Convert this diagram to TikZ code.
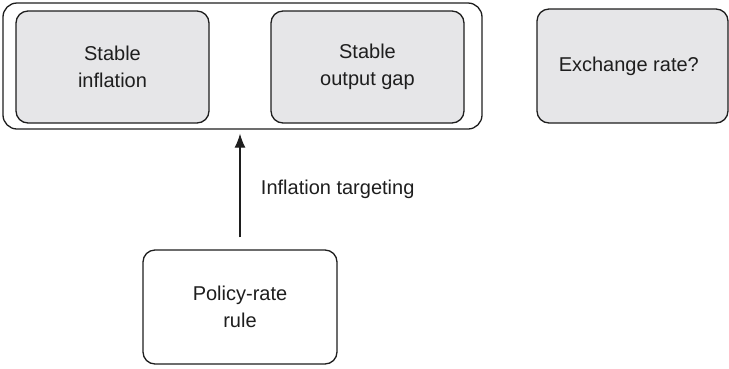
\documentclass[tikz,border=0pt]{standalone}
\usepackage{fontspec}
\setmainfont{Liberation Sans}
\usetikzlibrary{positioning,arrows.meta}

\definecolor{boxgray}{RGB}{230,230,232}
\definecolor{inkgray}{RGB}{30,30,30}

\tikzset{
	goalbox/.style={draw=inkgray,
		fill=boxgray,
		line width=1.3pt,
		rounded corners=12pt,
		align=center,
		text=inkgray,
		font=\fontsize{20}{27}\selectfont
	},
	rulebox/.style={goalbox, fill=white}
}

\begin{document}
\begin{tikzpicture}[x=1pt, y=-1pt]

\useasboundingbox (0,0) rectangle (729,368);

% Targets
\node [draw=inkgray,
	line width=1.3pt,
	rounded corners=14pt,
	minimum width=479pt,
	minimum height=126pt
] (targets) at (242.5, 66) {};

% Stable inflation
\node [goalbox,
	minimum width=193pt,
	minimum height=112pt
] (stable_inflation) at (112.5, 67) {
Stable\\
inflation
};

% Stable output gap
\node [goalbox,
	minimum width=193pt,
	minimum height=112pt
] (stable_output_gap) at (367.5, 67) {
Stable\\
output gap
};

% Exchange rate
\node [goalbox,
	minimum width=191pt,
	minimum height=114pt
] (exchange_rate) at (632.5, 66) {
Exchange rate?
};

% Policy-rate rule
\node [rulebox,
	minimum width=194pt,
	minimum height=114pt
] (policy_rule) at (240, 307) {
Policy-rate\\
rule
};

% Arrow with text label
\draw[line width=1.3pt, draw=inkgray, -{Latex[length=14pt,width=11pt]},
	shorten <=12pt, shorten >=4pt]
	(policy_rule.north) -- (policy_rule.north |- targets.south)
	node[midway, right, xshift=17pt, text=inkgray, font=\fontsize{20}{27}\selectfont] {Inflation targeting};

\end{tikzpicture}
\end{document}
